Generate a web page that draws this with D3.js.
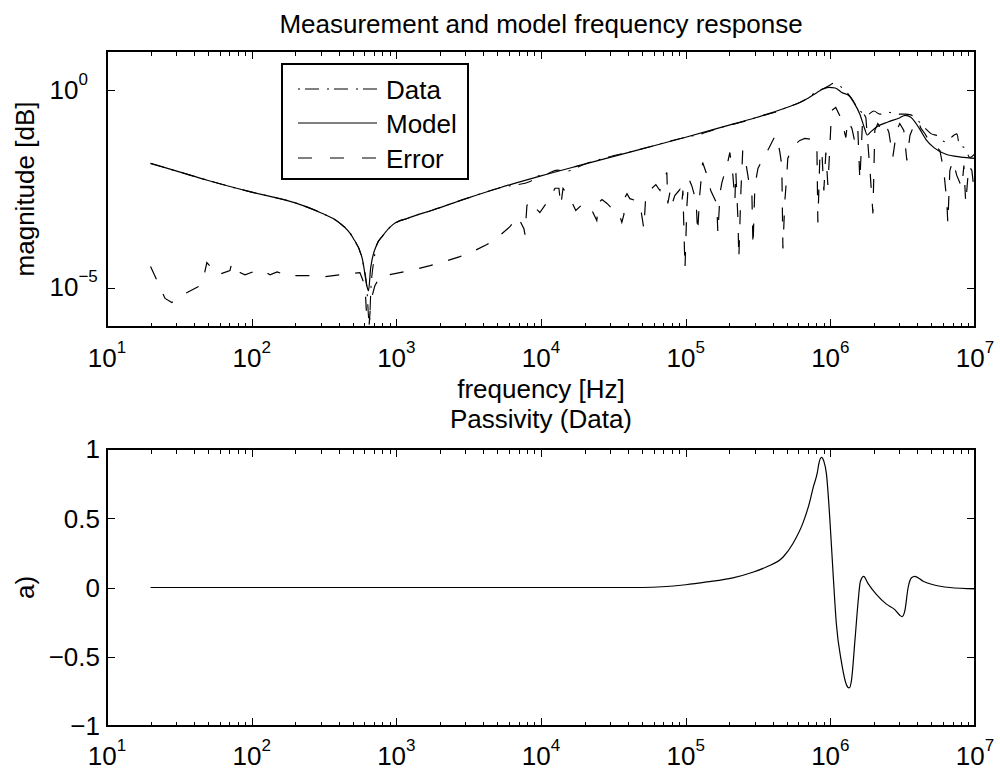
<!DOCTYPE html>
<html><head><meta charset="utf-8">
<script src="https://cdn.jsdelivr.net/npm/d3@7"></script>
<style>
body{margin:0;background:#fff;}
svg text{font-family:"Liberation Sans",Arial,Helvetica,sans-serif;fill:#000;}
</style></head><body>
<svg id="chart" width="1000" height="771"></svg>
<script>
// ---------------- data ----------------
const freqModel = [20,30,50,100,200,300,400,500,585,630,642,665,735,800,950,1200,1790,3000,5200,1e4,2e4,5e4,1e5,2e5,3e5,5e5,6.2e5,7e5,8.1e5,9e5,9.8e5,1.08e6,1.2e6,1.36e6,1.45e6,1.6e6,1.72e6,1.8e6,1.9e6,2.1e6,2.5e6,3.0e6,3.3e6,3.6e6,4.1e6,4.6e6,5.2e6,6.3e6,8e6,1e7];
const magModel = [1.41e-2,9.1e-3,5.2e-3,2.63e-3,1.41e-3,7.9e-4,4.5e-4,1.86e-4,4.9e-5,1.0e-5,8.3e-6,3.2e-5,1.26e-4,2.0e-4,4.0e-4,5.75e-4,9.3e-4,1.78e-3,3.4e-3,6.8e-3,1.35e-2,3.3e-2,6.5e-2,0.132,0.2,0.37,0.5,0.63,0.89,1.1,1.2,1.15,0.89,0.71,0.5,0.25,0.112,0.074,0.089,0.12,0.158,0.2,0.234,0.209,0.112,0.056,0.0355,0.024,0.0204,0.019];

const freqData = [20,30,50,100,200,300,400,500,585,625,650,668,700,735,800,950,1200,1790,3000,5200,8500,9200,1e4,1.3e4,1.5e4,2e4,5e4,1e5,1.3e5,1.5e5,2e5,2.5e5,3e5,4e5,4.3e5,5e5,6.2e5,7e5,8e5,9e5,9.8e5,1.05e6,1.15e6,1.28e6,1.4e6,1.55e6,1.68e6,1.8e6,2.0e6,2.2e6,2.5e6,2.9e6,3.3e6,3.6e6,4.0e6,4.5e6,5.0e6,5.5e6,6.2e6,7.5e6,7.8e6,8.5e6,9.2e6,1e7];
const magData = [1.41e-2,9.1e-3,5.2e-3,2.63e-3,1.41e-3,7.9e-4,4.5e-4,1.86e-4,4.6e-5,1.0e-5,1.26e-6,1.0e-5,5.0e-5,1.26e-4,2.0e-4,4.0e-4,5.75e-4,9.3e-4,1.78e-3,3.4e-3,5.0e-3,6.8e-3,6.8e-3,9.5e-3,9.0e-3,1.35e-2,3.3e-2,6.5e-2,8.0e-2,9.5e-2,0.132,0.16,0.2,0.27,0.29,0.37,0.5,0.64,0.93,1.12,1.32,1.51,1.32,0.95,0.63,0.355,0.263,0.24,0.30,0.25,0.28,0.25,0.25,0.24,0.178,0.112,0.079,0.071,0.05,0.079,0.04,0.035,0.02,0.025];

const freqError = [20,22.5,25.2,28.1,34.6,44,46,49,58.5,70.8,73,83,90,102,111,120,134,150,162,175,199,253,321,407,478,560,607,637,667,711,771,977,1240,1710,2170,2750,3490,4230,5200,6100,6920,7620,7750,7990,8380,8790,9820,11200,12500,13300,13700,14200,15800,17400,18900,20100,22500,24300,25100,26400,28600,31900,34500,36200,37400,38000,39300,41100,45300,48300,51400,53100,55700,58500,62200,66400,69500,74100,75300,77800,80400,84100,91200,94200,95700,98900,102000,105000,110000,118000,121000,125000,131000,140000,149000,164000,167000,173000,178000,193000,202000,212000,219000,222000,230000,233000,241000,248000,261000,274000,287000,292000,301000,316000,342000,376000,407000,427000,448000,462000,470000,485000,500000,508000,551000,615000,667000,745000,807000,820000,845000,873000,902000,931000,962000,991000,1.02e6,1.09e6,1.16e6,1.22e6,1.28e6,1.32e6,1.41e6,1.48e6,1.55e6,1.6e6,1.68e6,1.76e6,1.88e6,1.97e6,2.03e6,2.13e6,2.27e6,2.42e6,2.54e6,2.7e6,2.88e6,3.02e6,3.22e6,3.38e6,3.55e6,3.78e6,4.03e6,4.23e6,4.5e6,4.88e6,5.27e6,5.72e6,6.08e6,6.38e6,6.49e6,6.7e6,7.03e6,7.48e6,8.11e6,8.38e6,8.63e6,9.06e6,9.51e6,1e7];
const magError = [3.4e-5,1.34e-5,5.3e-6,4.2e-6,7.0e-6,1.12e-5,1.5e-5,4.3e-5,2.1e-5,2.7e-5,4.3e-5,2.4e-5,2.1e-5,2.5e-5,2.4e-5,2.7e-5,2.1e-5,2.5e-5,2.26e-5,2.4e-5,2.0e-5,2.0e-5,1.9e-5,2.1e-5,2.26e-5,2.4e-5,1.12e-5,4.5e-7,4.7e-6,1.12e-5,1.9e-5,2.26e-5,2.7e-5,3.6e-5,4.6e-5,6.1e-5,8.7e-5,1.23e-4,2.1e-4,3.5e-4,6.3e-4,3.1e-4,2.2e-4,1.2e-3,1.6e-3,1.2e-3,8.0e-4,1.6e-3,3.3e-3,3.3e-3,1.2e-3,3.3e-3,1.9e-3,9.0e-4,1.2e-3,1.36e-3,9.0e-4,5.0e-4,1.44e-3,1.71e-3,1.36e-3,9.0e-4,8.0e-4,4.5e-4,7.1e-4,1.9e-3,2.4e-3,1.8e-3,1.6e-3,1.36e-3,3.1e-4,2.4e-3,3.07e-3,3.3e-3,4.1e-3,2.9e-3,5.2e-3,8.3e-3,1.36e-3,2.6e-3,1.28e-3,2.16e-3,3.07e-3,1.44e-3,2.9e-3,3.0e-5,1.2e-3,5.8e-3,3.9e-3,1.6e-3,2.5e-4,2.16e-3,1.49e-2,7.4e-3,2.9e-3,1.36e-3,2.35e-4,2.6e-3,4.6e-3,1.25e-2,2.67e-2,7.0e-3,1.6e-3,9.3e-3,5.0e-4,5.4e-5,2.9e-3,3.0e-2,1.4e-2,4.6e-3,2.16e-3,1.1e-4,3.9e-3,1.05e-2,1.88e-2,3.4e-2,6.1e-2,7.2e-2,2.67e-2,1.25e-2,9.8e-5,1.6e-3,7.0e-3,1.88e-2,3.8e-2,5.4e-2,6.1e-2,5.7e-2,4.5e-2,4.5e-4,1.67e-2,3.0e-2,2.9e-3,2.67e-2,3.9e-3,3.4e-2,0.31,0.37,0.23,0.13,6.4e-2,0.173,0.109,4.8e-2,9.7e-2,5.2e-3,0.277,0.207,9.3e-3,7.6e-4,9.7e-2,0.145,9.7e-2,0.137,8.6e-2,2.0e-2,9.7e-2,0.145,9.7e-2,1.67e-2,7.2e-2,0.13,0.173,0.109,8.1e-2,4.8e-2,4.0e-2,3.0e-2,9.3e-3,1.6e-3,4.2e-4,9.3e-3,1.67e-2,7.0e-3,3.45e-3,1.25e-2,1.36e-3,1.25e-2,9.3e-3,1.9e-3];

const freqPassivity = [20,1e3,1e4,5.06e4,1e5,1.4e5,2.12e5,2.91e5,3.64e5,4.72e5,5.53e5,6.49e5,7.21e5,7.6e5,8.13e5,8.35e5,8.7e5,9.0e5,9.4e5,9.9e5,1.045e6,1.1e6,1.19e6,1.29e6,1.35e6,1.4e6,1.48e6,1.56e6,1.61e6,1.7e6,1.82e6,2.08e6,2.44e6,2.79e6,3.02e6,3.13e6,3.27e6,3.45e6,3.64e6,3.84e6,4.38e6,5.14e6,6.7e6,1e7];
const passivity = [0,0,0,0,0.02,0.04,0.07,0.11,0.15,0.22,0.32,0.47,0.62,0.72,0.83,0.9,0.94,0.915,0.82,0.51,0.10,-0.26,-0.53,-0.70,-0.725,-0.67,-0.38,-0.09,0.04,0.08,0.03,-0.05,-0.12,-0.16,-0.2,-0.21,-0.17,0.0,0.07,0.08,0.045,0.02,0.0,-0.01];

// tick / label arrays
const xTickExps = [1,2,3,4,5,6,7];
const minorMultipliers = [2,3,4,5,6,7,8,9];
const yTopTickExps = [0,-5];
const yBottomTicks = [-1,-0.5,0,0.5,1];
const yBottomTickLabels = ["\u22121","\u22120.5","0","0.5","1"];
const legendLabels = ["Data","Model","Error"];
const titleTop = "Measurement and model frequency response";
const titleBottom = "Passivity (Data)";
const xLabel = "frequency [Hz]";
const yLabelTop = "magnitude [dB]";
const yLabelBottom = "a)";

// ---------------- layout ----------------
const L = 107, R = 975;
const topT = 51, topB = 327, botT = 449, botB = 726;
const FS = 26, SUP = 17;

const svg = d3.select("#chart");
svg.append("rect").attr("width",1000).attr("height",771).attr("fill","#fff");

const x = d3.scaleLog().domain([1e1,1e7]).range([L,R]);
const yTop = d3.scaleLog().domain([1e-6,1e1]).range([topB,topT]);
const yBot = d3.scaleLinear().domain([-1,1]).range([botB,botT]);

const majorX = xTickExps.map(e => Math.pow(10,e));
const minorX = [];
xTickExps.slice(0,-1).forEach(e => minorMultipliers.forEach(m => minorX.push(m*Math.pow(10,e))));

const defs = svg.append("defs");
defs.append("clipPath").attr("id","clipTop").append("rect")
  .attr("x",L).attr("y",topT).attr("width",R-L).attr("height",topB-topT);
defs.append("clipPath").attr("id","clipBot").append("rect")
  .attr("x",L).attr("y",botT).attr("width",R-L).attr("height",botB-botT);

function styleAxis(g){
  g.select(".domain").remove();
  g.selectAll(".tick line").attr("stroke","#000").attr("stroke-width",1);
  g.attr("shape-rendering","crispEdges");
}

function xAxes(y0, y1){
  svg.append("g").attr("transform",`translate(0,${y1})`)
    .call(d3.axisBottom(x).tickValues(majorX).tickSize(-8).tickFormat("")).call(styleAxis);
  svg.append("g").attr("transform",`translate(0,${y1})`)
    .call(d3.axisBottom(x).tickValues(minorX).tickSize(-4.5).tickFormat("")).call(styleAxis);
  svg.append("g").attr("transform",`translate(0,${y0})`)
    .call(d3.axisTop(x).tickValues(majorX).tickSize(-8).tickFormat("")).call(styleAxis);
  svg.append("g").attr("transform",`translate(0,${y0})`)
    .call(d3.axisTop(x).tickValues(minorX).tickSize(-4.5).tickFormat("")).call(styleAxis);
}

function supLabel(xp, yp, base, exp, anchor){
  const t = svg.append("text").attr("x",xp).attr("y",yp)
    .attr("text-anchor",anchor).style("font-size",FS+"px");
  t.append("tspan").text(base);
  t.append("tspan").attr("dy",-14).style("font-size",SUP+"px").text(exp);
  return t;
}

function plainText(xp, yp, s, anchor, rot){
  const t = svg.append("text").attr("text-anchor",anchor||"middle").style("font-size",FS+"px").text(s);
  if(rot){ t.attr("transform",`translate(${xp},${yp}) rotate(-90)`); }
  else { t.attr("x",xp).attr("y",yp); }
  return t;
}

// ---------------- top plot ----------------
xAxes(topT, topB);
const yTopVals = yTopTickExps.map(e => Math.pow(10,e));
svg.append("g").attr("transform",`translate(${L},0)`)
  .call(d3.axisLeft(yTop).tickValues(yTopVals).tickSize(-8).tickFormat("")).call(styleAxis);
svg.append("g").attr("transform",`translate(${R},0)`)
  .call(d3.axisRight(yTop).tickValues(yTopVals).tickSize(-8).tickFormat("")).call(styleAxis);

const lineTop = (fs, ms) => d3.line().x(i => x(fs[i])).y(i => yTop(ms[i]));
const idx = a => d3.range(a.length);

const gTop = svg.append("g").attr("clip-path","url(#clipTop)");
gTop.append("path").attr("d", lineTop(freqData,magData).curve(d3.curveMonotoneX)(idx(freqData)))
  .attr("fill","none").attr("stroke","#000").attr("stroke-width",1.1).attr("stroke-dasharray","14,8,2,8");
gTop.append("path").attr("d", lineTop(freqModel,magModel).curve(d3.curveMonotoneX)(idx(freqModel)))
  .attr("fill","none").attr("stroke","#000").attr("stroke-width",1.2);
gTop.append("path").attr("d", lineTop(freqError,magError)(idx(freqError)))
  .attr("fill","none").attr("stroke","#000").attr("stroke-width",1.2).attr("stroke-dasharray","14,16");

svg.append("rect").attr("x",L).attr("y",topT).attr("width",R-L).attr("height",topB-topT)
  .attr("fill","none").attr("stroke","#000").attr("stroke-width",1.3).attr("shape-rendering","crispEdges");

// x tick labels (top plot)
xTickExps.forEach(e => supLabel(x(Math.pow(10,e)), 367, "10", String(e), "middle"));
// y tick labels (top plot)
yTopTickExps.forEach(e => supLabel(49.5, yTop(Math.pow(10,e))+8.5, "10", e<0 ? "\u2212"+Math.abs(e) : String(e), "start"));

plainText(541, 33, titleTop);
plainText(541, 398, xLabel);
plainText(34, (topT+topB)/2, yLabelTop, "middle", true);

// legend
const lg = svg.append("g");
lg.append("rect").attr("x",282).attr("y",64).attr("width",186).attr("height",115)
  .attr("fill","#fff").attr("stroke","#000").attr("stroke-width",1.2).attr("shape-rendering","crispEdges");
const legendDash = ["2,5,14,8","none","14,18"];
const legendY = [89,123,158];
legendLabels.forEach((s,i) => {
  lg.append("line").attr("x1",298).attr("x2",377).attr("y1",legendY[i]).attr("y2",legendY[i])
    .attr("stroke","#000").attr("stroke-width",1.2).attr("stroke-dasharray",legendDash[i]);
  lg.append("text").attr("x",386).attr("y",legendY[i]+9.5).style("font-size",FS+"px").text(s);
});

// ---------------- bottom plot ----------------
xAxes(botT, botB);
svg.append("g").attr("transform",`translate(${L},0)`)
  .call(d3.axisLeft(yBot).tickValues(yBottomTicks).tickSize(-8).tickFormat("")).call(styleAxis);
svg.append("g").attr("transform",`translate(${R},0)`)
  .call(d3.axisRight(yBot).tickValues(yBottomTicks).tickSize(-8).tickFormat("")).call(styleAxis);

svg.append("g").attr("clip-path","url(#clipBot)").append("path")
  .attr("d", d3.line().x(i => x(freqPassivity[i])).y(i => yBot(passivity[i])).curve(d3.curveMonotoneX)(idx(freqPassivity)))
  .attr("fill","none").attr("stroke","#000").attr("stroke-width",1.2);

svg.append("rect").attr("x",L).attr("y",botT).attr("width",R-L).attr("height",botB-botT)
  .attr("fill","none").attr("stroke","#000").attr("stroke-width",1.3).attr("shape-rendering","crispEdges");

xTickExps.forEach(e => supLabel(x(Math.pow(10,e)), 765, "10", String(e), "middle"));
yBottomTicks.forEach((v,i) => plainText(100, yBot(v)+9.3, yBottomTickLabels[i], "end"));

plainText(541, 428, titleBottom);
plainText(34, (botT+botB)/2, yLabelBottom, "middle", true);
</script>
</body></html>
